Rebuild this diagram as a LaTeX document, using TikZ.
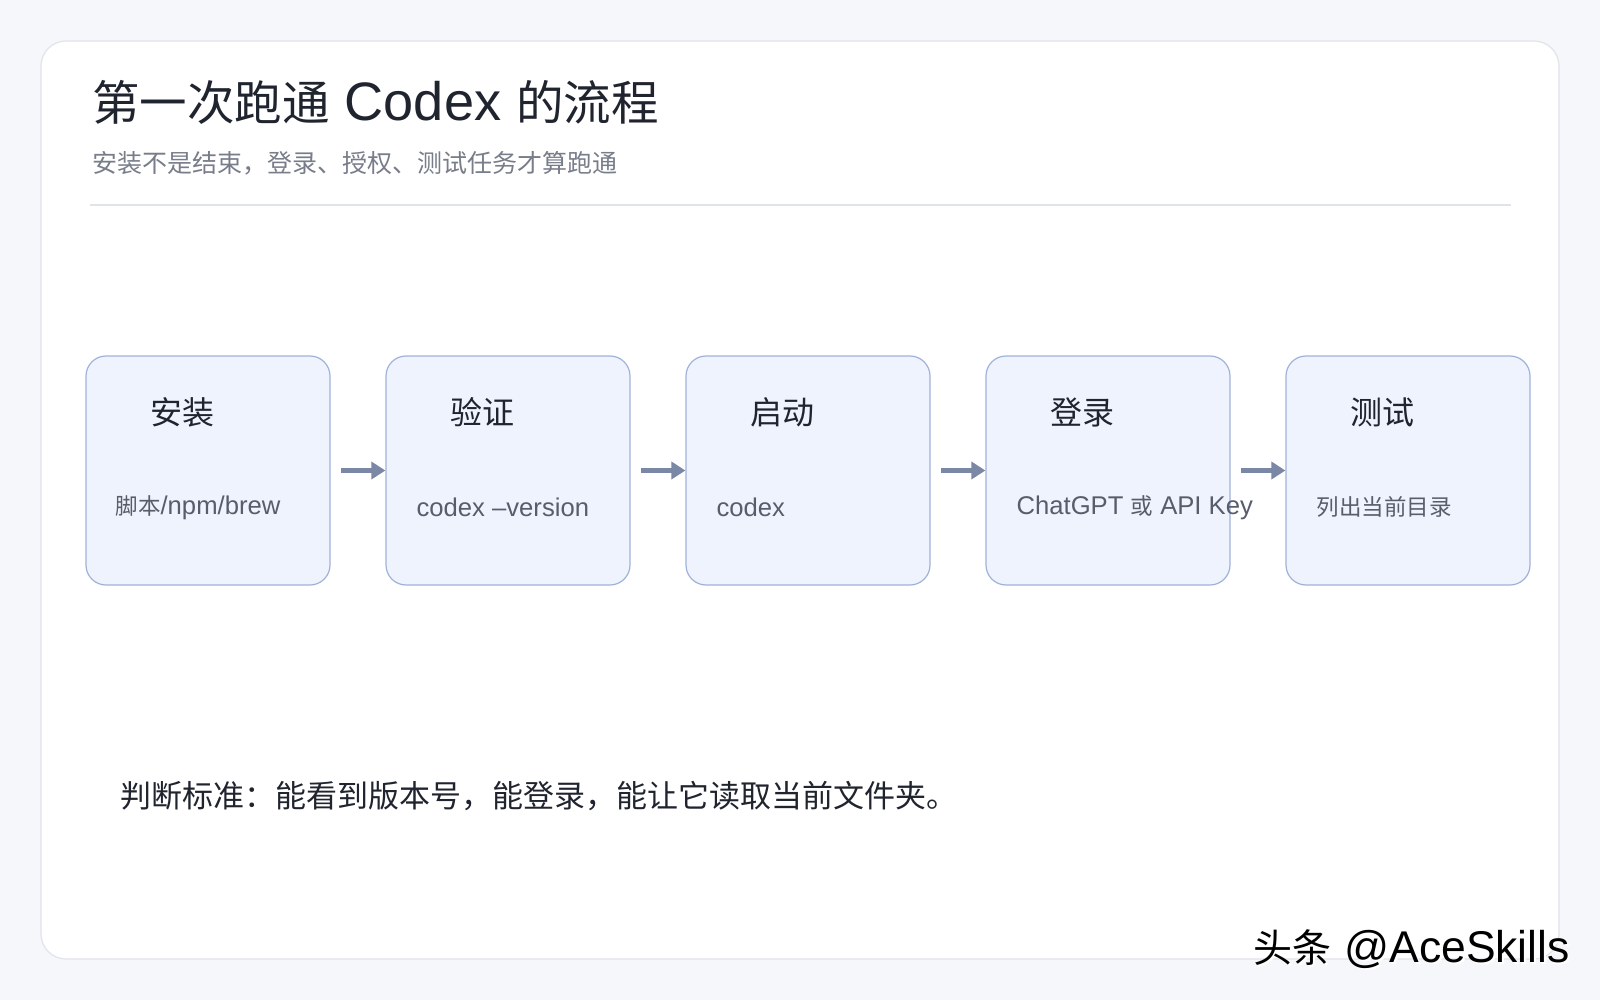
\documentclass[tikz,border=0pt]{standalone}
\usepackage{fontspec}
\setmainfont{Noto Sans CJK SC}
\newfontfamily\latfont[Scale=1.14]{Liberation Sans}
\usetikzlibrary{positioning, arrows.meta}

\definecolor{pagebg}{RGB}{246,247,251}
\definecolor{cardline}{RGB}{224,227,234}
\definecolor{boxfill}{RGB}{238,243,253}
\definecolor{boxline}{RGB}{160,178,218}
\definecolor{arrowgray}{RGB}{122,135,165}
\definecolor{inkdark}{RGB}{32,36,46}
\definecolor{inkgray}{RGB}{120,125,138}
\definecolor{inksub}{RGB}{88,93,108}

\begin{document}
\begin{tikzpicture}[
    x=1pt, y=1pt,
    node distance=54.8pt,
    stagebox/.style={rectangle, rounded corners=20pt, draw=boxline, line width=1.2pt,
                     fill=boxfill, minimum width=244pt, minimum height=229pt},
    stagetitle/.style={anchor=west, inner sep=0pt, font=\fontsize{32}{36}\selectfont,
                       text=inkdark},
    stagenote/.style={anchor=west, inner sep=0pt, font=\fontsize{22.5}{26}\selectfont,
                      text=inksub},
    seta/.style={-{Triangle[length=14pt, width=17pt]}, line width=5pt, arrowgray,
                 shorten <=10pt}
]

% fundo e cartao
\fill[pagebg] (0,0) rectangle (1600,-1000);
\draw[cardline, fill=white, line width=1.2pt, rounded corners=25pt]
     (41,-41) rectangle (1559,-959);

% titulo
\node[anchor=west, inner sep=0pt, font=\fontsize{47.5}{54}\selectfont, text=inkdark]
     (title) at (92,-102) {第一次跑通{\latfont\ Codex\ }的流程};
\node[anchor=west, inner sep=0pt, font=\fontsize{25}{30}\selectfont, text=inkgray]
     (subtitle) at (92,-163) {安装不是结束，登录、授权、测试任务才算跑通};
\draw[cardline, line width=1.2pt] (90,-205) -- (1511,-205);

% etapas
\node[stagebox] (stage1) at (208,-470.5) {};
\node[stagebox, right=of stage1] (stage2) {};
\node[stagebox, right=of stage2] (stage3) {};
\node[stagebox, right=of stage3] (stage4) {};
\node[stagebox, right=of stage4] (stage5) {};

\node[stagetitle] (title1) at ([shift={(65,-57)}]stage1.north west) {安装};
\node[stagetitle] (title2) at ([shift={(65,-57)}]stage2.north west) {验证};
\node[stagetitle] (title3) at ([shift={(65,-57)}]stage3.north west) {启动};
\node[stagetitle] (title4) at ([shift={(65,-57)}]stage4.north west) {登录};
\node[stagetitle] (title5) at ([shift={(65,-57)}]stage5.north west) {测试};

\node[stagenote] (note1) at ([shift={(30,-152)}]stage1.north west) {脚本{\latfont /npm/brew}};
\node[stagenote] (note2) at ([shift={(31,-152)}]stage2.north west) {\latfont codex –version};
\node[stagenote] (note3) at ([shift={(31,-152)}]stage3.north west) {\latfont codex};
\node[stagenote] (note4) at ([shift={(31,-152)}]stage4.north west) {{\latfont ChatGPT\ }或{\latfont\ API Key}};
\node[stagenote] (note5) at ([shift={(31,-152)}]stage5.north west) {列出当前目录};

% setas
\draw[seta] (stage1) -- (stage2);
\draw[seta] (stage2) -- (stage3);
\draw[seta] (stage3) -- (stage4);
\draw[seta] (stage4) -- (stage5);

% criterio
\node[anchor=west, inner sep=0pt, font=\fontsize{31}{35}\selectfont, text=inkdark]
     (criterio) at (120,-796) {判断标准：能看到版本号，能登录，能让它读取当前文件夹。};

% marca
\node[anchor=east, inner sep=0pt, font=\fontsize{39}{43}\selectfont, text=white]
     (markshadow) at (1572,-951) {头条{\latfont\ @AceSkills}};
\node[anchor=east, inner sep=0pt, font=\fontsize{39}{43}\selectfont, text=black]
     (mark) at (1570,-949) {头条{\latfont\ @AceSkills}};
\end{tikzpicture}
\end{document}
